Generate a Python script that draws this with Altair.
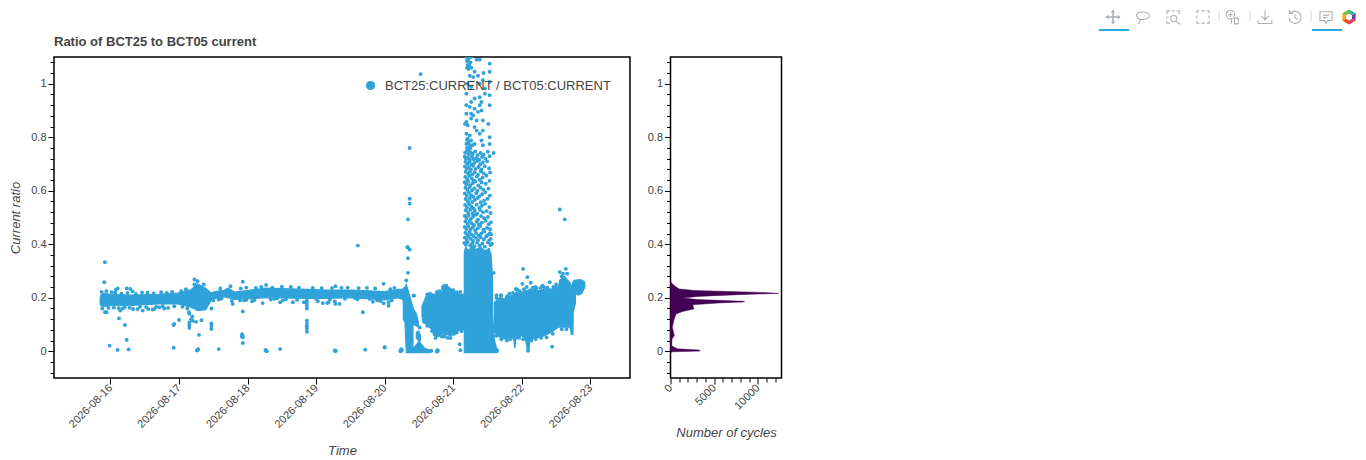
import urllib.parse

import altair as alt
import pandas as pd

FONT = "Liberation Sans"
BLUE = "#30a2da"
TXT = "#444444"
DAY0 = pd.Timestamp("2026-08-16", tz="UTC")


def iso(d):
    return (DAY0 + pd.to_timedelta(d, unit="D")).strftime("%Y-%m-%dT%H:%M:%SZ")


def ms(s):
    return int(pd.Timestamp(s, tz="UTC").value / 1e6)


date_ticks = ["2026-08-16", "2026-08-17", "2026-08-18", "2026-08-19",
              "2026-08-20", "2026-08-21", "2026-08-22", "2026-08-23"]
x_domain = ["2026-08-15 04:14", "2026-08-23 13:50"]

# dense band envelopes: (days since 08-16, low, high)
band_a = [(-.15, .176, .2), (-.14, .17, .21), (-.1, .168, .217), (0, .17, .213), (.3, .171, .21),
          (.69, .177, .213), (.98, .177, .217), (1.175, .165, .23), (1.27, .152, .252), (1.39, .155, .235),
          (1.467, .19, .218), (1.54, .198, .224), (1.66, .204, .228), (1.71, .2, .236), (1.81, .194, .221),
          (2.05, .197, .229), (2.27, .2, .236), (2.86, .198, .231), (3.16, .198, .229), (3.51, .2, .229),
          (4.0, .192, .223), (4.19, .2, .231), (4.27, .193, .231)]
band_b = [(4.27, .12, .235), (4.295, .107, .24), (4.314, -.005, .25), (4.36, -.005, .21), (4.411, -.005, .164)]
band_c = [(4.415, .10, .16), (4.46, .095, .14), (4.49, .09, .11)]
band_d = [(4.46, .05, .07), (4.49, .04, .077), (4.52, .04, .06)]
band_e = [(4.41, -.005, .008), (4.46, -.005, .025), (4.50, -.005, .037), (4.53, -.005, .028),
          (4.58, -.005, .012), (4.63, -.005, .006), (4.68, -.003, .006)]
band_f = [(4.543, .13, .17), (4.558, .108, .177), (4.606, .102, .208), (4.679, .083, .208), (4.727, .058, .214),
          (4.825, .064, .22), (4.873, .064, .24), (4.971, .058, .233), (5.07, .077, .214), (5.16, .083, .214)]
band_g = [(5.16, -.005, .37), (5.18, -.005, .39), (5.22, -.005, .375), (5.27, -.005, .395), (5.33, -.005, .38),
          (5.4, -.005, .39), (5.46, -.005, .375), (5.52, -.005, .385), (5.55, -.005, .36), (5.57, -.005, .28),
          (5.575, -.005, .13), (5.6, -.005, .04), (5.63, -.005, .012), (5.655, -.002, .006)]
band_h = [(5.60, .071, .183), (5.68, .052, .202), (5.75, .046, .195), (5.85, .052, .208), (5.88, .045, .21),
          (5.896, .011, .215), (5.91, .045, .22), (5.99, .058, .22), (6.05, .05, .225), (6.08, .002, .228),
          (6.10, .002, .23), (6.12, .046, .233), (6.24, .052, .227), (6.33, .058, .232), (6.43, .071, .233),
          (6.53, .09, .233), (6.55, .09, .265), (6.625, .09, .28), (6.65, .09, .27), (6.70, .09, .258),
          (6.72, .064, .24), (6.745, .064, .215), (6.747, .146, .215), (6.78, .18, .225)]
band_i = [(6.73, .235, .25), (6.76, .22, .265), (6.82, .21, .267), (6.87, .215, .267), (6.91, .235, .26), (6.92, .245, .25)]
bands = [band_a, band_b, band_c, band_d, band_e, band_f, band_g, band_h, band_i]

# isolated points: (days since 08-16, ratio)
stray = [(-.081, .333), (-.09, .258), (.105, .235), (.08, .23), (.236, .235), (.289, .233), (.323, .224),
         (-.056, .146), (-.08, .146), (.143, .152), (.124, .123), (.211, .098), (.236, .043), (-.013, .021),
         (.104, .005), (.265, .007), (.922, .013), (.93, .102), (.92, .098), (1.0, .117), (1.146, .146),
         (1.15, .14), (1.194, .13), (1.175, .12), (1.2, .114), (1.15, .108), (1.15, .098), (1.15, .088),
         (1.248, .11), (1.326, .116), (1.472, .104), (1.472, .095), (1.472, .083), (1.291, .061), (1.272, .005),
         (1.26, .003), (1.28, .008), (1.579, .008), (1.929, .26), (1.929, .149), (1.92, .064), (1.93, .052),
         (1.915, .055), (1.925, .058), (1.929, .031), (1.224, .268), (1.224, .25), (1.27, .262), (1.36, .25),
         (1.783, .177), (1.89, .19), (1.472, .16), (1.579, .193), (.47, .152), (.615, .156), (.64, .158),
         (.712, .164), (.785, .16), (.396, .158), (.55, .158), (.84, .162), (.18, .16), (.33, .158),
         (2.27, .248), (2.22, .18), (2.065, .187), (1.98, .192), (2.39, .196), (2.43, .198), (2.513, .19),
         (2.474, .183), (2.66, .183), (2.82, .183), (2.864, .19), (2.864, .18), (2.864, .17), (2.864, .16),
         (2.864, .114), (2.864, .102), (2.864, .093), (2.864, .085), (2.864, .073), (3.024, .187), (3.097, .18),
         (3.16, .18), (3.18, .183), (3.28, .177), (3.34, .177), (3.27, .186), (3.28, .243), (2.27, .002),
         (2.26, .005), (2.28, .0), (2.474, .008), (3.277, .0), (3.27, .003), (3.285, .002), (3.715, .006),
         (3.997, .014), (4.23, .002), (3.68, .146), (3.983, .252), (3.983, .179), (4.056, .17), (4.056, .183),
         (3.827, .185), (3.89, .19), (3.56, .2), (3.608, .395), (4.338, .389), (4.363, .38), (4.338, .348),
         (4.338, .293), (4.314, .265), (4.426, .208), (4.509, .089), (4.58, .11), (4.727, .064), (4.766, .06),
         (4.873, .242), (4.85, .24), (4.24, .004), (4.23, .0), (4.25, .005), (4.24, .008), (4.68, .002),
         (4.766, .004), (4.76, -.002), (4.775, .002), (5.093, .026), (5.102, .004), (4.363, .76), (4.363, .57),
         (4.363, .552), (4.338, .493), (4.33, .389), (4.523, 1.036), (6.552, .53), (6.625, .493), (6.017, .308),
         (6.08, .277), (6.44, .017), (6.64, .308), (6.552, .296), (5.91, .233), (6.007, .252), (6.129, .256),
         (6.406, .258), (3.998, .015), (4.42, .208), (5.589, .293), (5.628, .2), (5.691, .21), (5.788, .206),
         (6.09, .021), (6.09, .002), (6.58, .28), (6.6, .29), (6.66, .29), (6.5, .25), (6.3, .245), (6.2, .24)]

# speckle along the edges of the bands
edges = [(4.62, .212), (4.66, .215), (4.7, .21), (4.76, .222), (4.8, .225), (4.85, .235), (4.875, .245), (4.9, .245),
         (4.93, .235), (5.0, .228), (5.05, .22), (5.1, .222), (4.62, .095), (4.69, .075), (4.74, .05), (4.78, .06),
         (4.83, .055), (4.87, .055), (4.92, .05), (4.96, .05), (5.01, .065), (5.05, .07), (5.12, .075),
         (5.63, .21), (5.7, .208), (5.78, .2), (5.82, .215), (5.87, .218), (5.93, .23), (5.97, .225), (6.03, .232),
         (6.07, .24), (6.16, .238), (6.21, .235), (6.27, .237), (6.32, .24), (6.37, .238), (6.46, .24), (6.5, .238),
         (5.63, .058), (5.7, .045), (5.78, .04), (5.83, .045), (5.96, .05), (6.02, .045), (6.14, .04), (6.2, .046),
         (6.28, .05), (6.36, .052), (6.45, .065), (6.58, .082), (6.65, .082),
         (-.13, .222), (-.06, .225), (.02, .221), (.07, .219), (.16, .215), (.25, .218), (.37, .214), (.46, .22),
         (.54, .219), (.63, .216), (.74, .221), (.82, .218), (.9, .222), (1.03, .225), (1.1, .232),
         (-.12, .16), (-.03, .162), (.05, .163), (.12, .161), (.21, .165), (.28, .163), (.43, .166), (.52, .165),
         (.67, .167), (.76, .169), (.93, .168), (1.05, .166), (1.12, .16),
         (1.5, .19), (1.6, .235), (1.75, .243), (1.9, .235), (1.98, .238), (2.12, .237), (2.2, .24), (2.36, .238),
         (2.5, .241), (2.63, .24), (2.75, .238), (2.95, .237), (3.08, .236), (3.23, .236), (3.37, .237), (3.46, .238),
         (3.62, .236), (3.74, .237), (3.86, .235), (4.08, .232), (4.14, .237),
         (1.62, .197), (1.77, .188), (1.95, .19), (2.1, .192), (2.34, .193), (2.56, .194), (2.72, .192), (3.0, .195),
         (3.2, .194), (3.42, .196), (3.6, .194), (3.78, .195), (3.94, .188), (4.1, .19)]

# the spray of points above the dense column on 08-21
spray = [(5.19, 1.10), (5.21, 1.10), (5.24, 1.10), (5.26, 1.10), (5.20, 1.085), (5.22, 1.09), (5.25, 1.08), (5.21, 1.07),
         (5.23, 1.07), (5.26, 1.06), (5.20, 1.06), (5.22, 1.055), (5.34, 1.09), (5.385, 1.09), (5.53, 1.075),
         (5.53, 1.045), (5.44, 1.04), (5.31, 1.045), (5.24, 1.03), (5.29, 1.025), (5.36, 1.03), (5.43, 1.013),
         (5.53, 1.007), (5.385, 1.0), (5.21, 1.0), (5.26, .988), (5.46, .982), (5.53, .957), (5.46, .963),
         (5.19, .963), (5.31, .945), (5.385, .95), (5.41, .932), (5.26, .932), (5.19, .92), (5.24, .913),
         (5.31, .907), (5.385, .92), (5.53, .92), (5.19, .888), (5.29, .882), (5.26, .888), (5.36, .895),
         (5.41, .90), (5.19, .857), (5.26, .87), (5.34, .863), (5.43, .863), (5.51, .85), (5.21, .845),
         (5.17, .85), (5.31, .838), (5.34, .825), (5.19, .813), (5.24, .807), (5.43, .825), (5.385, .813),
         (5.21, .795), (5.26, .788), (5.53, .80), (5.19, .775), (5.24, .77), (5.31, .775), (5.41, .788),
         (5.43, .77), (5.53, .775), (5.2, .79), (5.22, .78), (5.2, .76), (5.25, .76), (5.28, .77), (5.22, .755),
         (5.172, .742), (5.197, .748), (5.223, .736), (5.251, .744), (5.283, .739), (5.318, .747), (5.352, .733),
         (5.397, .741), (5.442, .735), (5.503, .746), (5.587, .741),
         (5.166, .727), (5.184, .719), (5.213, .724), (5.241, .716), (5.272, .728), (5.296, .718), (5.337, .722),
         (5.376, .715), (5.419, .726), (5.468, .72), (5.529, .729),
         (5.178, .708), (5.207, .701), (5.236, .709), (5.263, .698), (5.305, .704), (5.348, .711), (5.392, .699),
         (5.431, .706), (5.493, .71),
         (5.169, .691), (5.194, .683), (5.228, .688), (5.256, .679), (5.289, .693), (5.327, .682), (5.368, .689),
         (5.409, .68), (5.457, .692), (5.521, .684),
         (5.181, .671), (5.216, .664), (5.243, .672), (5.277, .661), (5.311, .669), (5.359, .66), (5.401, .673),
         (5.442, .665), (5.536, .668),
         (5.173, .652), (5.201, .643), (5.232, .655), (5.268, .646), (5.299, .638), (5.343, .653), (5.385, .641),
         (5.426, .649), (5.481, .657),
         (5.165, .632), (5.19, .624), (5.219, .634), (5.248, .621), (5.284, .629), (5.321, .635), (5.364, .62),
         (5.412, .631), (5.473, .626), (5.528, .637),
         (5.177, .611), (5.205, .603), (5.237, .613), (5.271, .601), (5.308, .609), (5.351, .599), (5.395, .612),
         (5.437, .604), (5.512, .608),
         (5.168, .59), (5.197, .581), (5.226, .593), (5.259, .583), (5.292, .577), (5.334, .591), (5.378, .579),
         (5.421, .587), (5.466, .595), (5.533, .582),
         (5.18, .569), (5.211, .56), (5.24, .571), (5.275, .558), (5.316, .566), (5.355, .573), (5.399, .557),
         (5.447, .563), (5.498, .57),
         (5.171, .547), (5.199, .538), (5.229, .55), (5.263, .541), (5.296, .534), (5.339, .548), (5.381, .536),
         (5.418, .544), (5.462, .551), (5.525, .539),
         (5.182, .527), (5.214, .518), (5.246, .529), (5.28, .516), (5.313, .525), (5.347, .514), (5.39, .528),
         (5.434, .52), (5.487, .524), (5.542, .517),
         (5.167, .506), (5.192, .498), (5.222, .508), (5.254, .495), (5.286, .503), (5.325, .51), (5.361, .492),
         (5.404, .505), (5.449, .497), (5.505, .502),
         (5.175, .485), (5.208, .476), (5.238, .487), (5.269, .478), (5.302, .471), (5.341, .484), (5.373, .474),
         (5.416, .481), (5.471, .488), (5.518, .475), (5.548, .482),
         (5.165, .465), (5.189, .457), (5.218, .467), (5.25, .455), (5.283, .463), (5.319, .452), (5.356, .46),
         (5.394, .468), (5.439, .454), (5.491, .461), (5.536, .456),
         (5.176, .443), (5.203, .436), (5.234, .446), (5.262, .437), (5.293, .431), (5.331, .442), (5.369, .433),
         (5.407, .44), (5.452, .447), (5.499, .434), (5.531, .441), (5.553, .437),
         (5.168, .425), (5.195, .417), (5.225, .428), (5.257, .42), (5.288, .412), (5.327, .424), (5.36, .415),
         (5.398, .426), (5.444, .418), (5.478, .429), (5.52, .413), (5.545, .42),
         (5.16, .405), (5.183, .398), (5.21, .408), (5.244, .396), (5.277, .404), (5.31, .393), (5.346, .406),
         (5.383, .395), (5.425, .403), (5.46, .391), (5.505, .407), (5.54, .397), (5.565, .402)]

hist_ratio = [-.006, -.002, .0007, .0045, .0094, .0206, .046, .058, .089, .114, .139, .149, .158, .166, .174, .1805,
              .184, .1866, .193, .199, .205, .2116, .2165, .22, .227, .233, .245, .258, .265]
hist_count = [0, 200, 3400, 3290, 750, 140, 170, 440, 210, 370, 630, 1400, 2680, 2600, 2560, 5440,
              8300, 8500, 3130, 1400, 3130, 7750, 12400, 10400, 2730, 1000, 440, 50, 0]

y_minor = [-.08, -.04, 0, .04, .08, .12, .16, .2, .24, .28, .32, .36, .4, .44, .48, .52, .56, .6, .64, .68, .72, .76,
           .8, .84, .88, .92, .96, 1, 1.04, 1.08]
count_minor = [0, 1000, 2000, 3000, 4000, 5000, 6000, 7000, 8000, 9000, 10000, 11000, 12000]
SERIES = "BCT25:CURRENT / BCT05:CURRENT"

points = pd.DataFrame([{"t": iso(d), "r": r} for d, r in stray + edges + spray])
points["series"] = SERIES

area_rows = []
for i, b in enumerate(bands):
    area_rows += [{"t": iso(d), "lo": lo, "hi": hi, "seg": i} for d, lo, hi in b]
areas = pd.DataFrame(area_rows)
hist = pd.DataFrame({"ratio": hist_ratio, "count": hist_count})

yscale = alt.Scale(domain=[-.1, 1.1], nice=False, zero=False)
xscale = alt.Scale(type="utc", domain=[ms(s) for s in x_domain], nice=False)
major_y = "abs(datum.value*5-round(datum.value*5))<0.001"
common = dict(labelColor=TXT, labelFont=FONT, labelFontSize=11, titleColor=TXT, titleFont=FONT, titleFontSize=13,
              titleFontStyle="italic", titleFontWeight="normal", tickColor="black", domain=False, grid=False,
              labelOverlap=False, labelFlush=False)


def y_axis(title, pad=4):
    return alt.Axis(title=title, values=y_minor, labelExpr=f"{major_y} ? format(datum.value,'.1~f') : ''",
                    tickSize={"condition": {"test": major_y, "value": 6}, "value": 4}, titlePadding=pad, **common)


x_axis = alt.Axis(title="Time", values=[ms(s) for s in date_ticks], format="%Y-%m-%d", labelAngle=-45,
                  labelAlign="right", labelBaseline="middle", tickSize=6, titlePadding=15, **common)
main_y_axis = y_axis("Current ratio", 8)

area = alt.Chart(areas).mark_area(color=BLUE, stroke=BLUE, strokeWidth=1.2, clip=True).encode(
    x=alt.X("t:T", scale=xscale, axis=x_axis),
    y=alt.Y("lo:Q", scale=yscale, axis=main_y_axis),
    y2="hi:Q",
    detail="seg:N",
)
dots = alt.Chart(points).mark_circle(size=15, opacity=1, clip=True).encode(
    x=alt.X("t:T", scale=xscale, axis=x_axis),
    y=alt.Y("r:Q", scale=yscale, axis=main_y_axis),
    color=alt.Color("series:N", scale=alt.Scale(domain=[SERIES], range=[BLUE]),
                    legend=alt.Legend(title=None, orient="none", legendX=310, legendY=22, labelFont=FONT,
                                      labelFontSize=13, labelColor=TXT, symbolSize=85, symbolType="circle",
                                      symbolOpacity=1, labelLimit=400, labelOffset=8, zindex=2)),
)
main = alt.layer(area, dots).properties(
    width=576, height=321,
    title=alt.TitleParams("Ratio of BCT25 to BCT05 current", anchor="start", frame="group", font=FONT, fontSize=13,
                          fontWeight="bold", color=TXT, offset=7),
)

# Toolbar glyphs (unit paths, -1..1), placed as small images to the right of the histogram
GREY = "#aab0b5"
tool_x = [1112, 1142, 1172, 1202, 1232, 1264, 1294, 1325]
tool_paths = [
    "M0 -1L-.3 -.6H-.1V-.1H-.6V-.3L-1 0L-.6 .3V.1H-.1V.6H-.3L0 1L.3 .6H.1V.1H.6V.3L1 0L.6 -.3V-.1H.1V-.6H.3Z",
    "M-.85 -.2C-.85 -.8 .85 -.8 .85 -.2C.85 .3 -.1 .4 -.4 .3C-.85 .15 -.85 -.1 -.85 -.2M-.4 .3C-.3 .6 -.5 .9 -.7 .9",
    "M-.8 -.4V-.8H-.4M-.1 -.8H.2M.5 -.8H.8V-.4M-.8 -.1V.2M-.8 .5V.8H-.4M-.3 .2A.4 .4 0 1 1 .5 .2A.4 .4 0 1 1 -.3 .2M.4 .5L.9 .95",
    "M-.8 -.5V-.8H-.5M-.2 -.8H.2M.5 -.8H.8V-.5M.8 -.2V.2M.8 .5V.8H.5M.2 .8H-.2M-.5 .8H-.8V.5M-.8 .2V-.2",
    "M-.9 -.3A.55 .55 0 1 1 .2 -.3A.55 .55 0 1 1 -.9 -.3M-.35 -.6V0M-.65 -.3H-.05M-.2 .2V.9M.2 .15H.7V.9H.2Z",
    "M0 -.9V.3M-.5 -.15L0 .35L.5 -.15M-.9 .35V.85H.9V.35",
    "M-.6 -.5A.8 .8 0 1 1 -.8 .1M-.7 -.95V-.45H-.2M0 -.4V.1L.3 .3",
    "M-.8 -.7H.8V.45H.2L0 .85L-.2 .45H-.8ZM-.4 -.25H.4M-.4 .1H.2",
]
tool_sep = [1218, 1249, 1310]
tool_bar = [(1098, 1128), (1311, 1341)]
logo_wedges = [("M0 -1L.866 -.5L.39 -.225L0 -.45Z", "#2eb6a6"), ("M.866 -.5V.5L.39 .225V-.225Z", "#6f42a8"),
               ("M.866 .5L0 1L0 .45L.39 .225Z", "#e43d68"), ("M0 1L-.866 .5L-.39 .225L0 .45Z", "#ee4b2b"),
               ("M-.866 .5V-.5L-.39 -.225V.225Z", "#f7a41d"), ("M-.866 -.5L0 -1L0 -.45L-.39 -.225Z", "#6cbd45")]
LOGO_X = 1348
LEFT, TOP = 669.5, 56
one = pd.DataFrame({"a": [0]})


def svg_url(body):
    svg = f'<svg xmlns="http://www.w3.org/2000/svg" viewBox="-1.05 -1.05 2.1 2.1" width="32" height="32">{body}</svg>'
    return "data:image/svg+xml," + urllib.parse.quote(svg)


deco = []
for i, (px, path) in enumerate(zip(tool_x, tool_paths)):
    paint = f'fill="{GREY}"' if i == 0 else f'fill="none" stroke="{GREY}" stroke-width=".14"'
    deco.append(alt.Chart(one).mark_image(url=svg_url(f'<path d="{path}" {paint}/>'), width=16, height=16)
                .encode(x=alt.value(px - LEFT), y=alt.value(16 - TOP)))
for px in tool_sep:
    deco.append(alt.Chart(one).mark_rule(color="#cfd3d6", strokeWidth=1)
                .encode(x=alt.value(px - LEFT), y=alt.value(10 - TOP), y2=alt.value(20 - TOP)))
for a, b in tool_bar:
    deco.append(alt.Chart(one).mark_rule(color="#26aae1", strokeWidth=2)
                .encode(x=alt.value(a - LEFT), x2=alt.value(b - LEFT), y=alt.value(29 - TOP)))
logo_body = "".join(f'<path d="{d}" fill="{c}"/>' for d, c in logo_wedges)
deco.append(alt.Chart(one).mark_image(url=svg_url(logo_body), width=16, height=16)
            .encode(x=alt.value(LOGO_X - LEFT), y=alt.value(16 - TOP)))

h_area = alt.Chart(hist).mark_area(orient="horizontal", color="#440154", stroke="#440154", strokeWidth=.5).encode(
    x=alt.X("count:Q", scale=alt.Scale(domain=[0, 12720], nice=False),
            axis=alt.Axis(title="Number of cycles", values=count_minor,
                          labelExpr="datum.value%5000==0 ? format(datum.value,'d') : ''", labelAngle=-45,
                          labelAlign="right", labelBaseline="middle",
                          tickSize={"condition": {"test": "datum.value%5000==0", "value": 6}, "value": 4},
                          titlePadding=15, **common)),
    y=alt.Y("ratio:Q", scale=yscale, axis=y_axis(None)),
)
side = alt.layer(h_area, *deco).properties(width=111, height=321)

chart = alt.hconcat(main, side, spacing=14.5).resolve_scale(x="independent", y="independent", color="independent").properties(
    padding={"left": 0, "top": 0, "right": 0, "bottom": 0}, background="white"
).configure_view(stroke="black", strokeWidth=1.5)
chart.save("out.html", embed_options={"renderer": "svg", "actions": False})
